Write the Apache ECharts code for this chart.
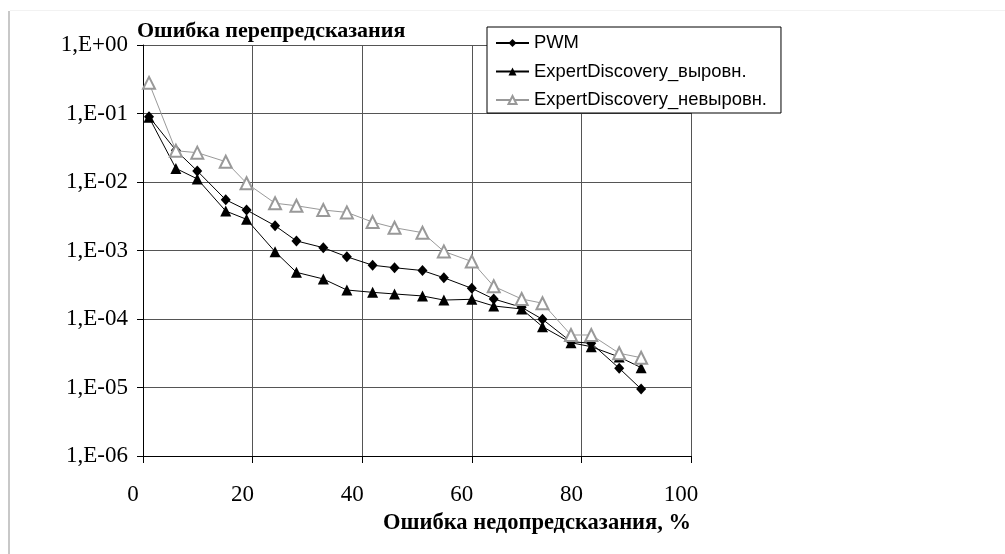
<!DOCTYPE html>
<html>
<head>
<meta charset="utf-8">
<script src="https://cdn.jsdelivr.net/npm/echarts@6/dist/echarts.min.js"></script>
<style>
  html, body { margin: 0; padding: 0; background: #fff; }
  #chart { width: 1005px; height: 554px; }
</style>
</head>
<body>
<div id="chart"></div>
<script>
// ошибка недопредсказания, % (общая ось X для всех серий)
const underErr = [1.1, 6.0, 9.9, 15.1, 18.9, 24.1, 28.0, 32.9, 37.2, 41.9, 45.9, 51.0, 54.9, 60.0, 64.0, 69.1, 72.9, 78.1, 81.8, 86.9, 90.9]

const pwm = [0.09, 0.029, 0.0145, 0.0055, 0.0039, 0.0023, 0.00138, 0.0011, 0.00081, 0.00061, 0.00056, 0.00051, 0.0004, 0.00028, 0.000196, 0.000148, 0.000099, 0.0000467, 0.0000442, 0.0000191, 0.0000095]
const edAligned = [0.088, 0.0158, 0.0111, 0.00377, 0.00285, 0.00096, 0.00048, 0.000384, 0.000265, 0.000245, 0.000232, 0.000217, 0.000189, 0.000194, 0.000155, 0.00014, 0.0000772, 0.0000451, 0.0000394, 0.0000279, 0.0000195]
const edUnaligned = [0.28, 0.0286, 0.0268, 0.0198, 0.0096, 0.0049, 0.0045, 0.0039, 0.0036, 0.0026, 0.00215, 0.00182, 0.00097, 0.00069, 0.0003, 0.000196, 0.00017, 0.0000584, 0.0000584, 0.0000316, 0.0000272]

const seriesNames = ['PWM', 'ExpertDiscovery_выровн.', 'ExpertDiscovery_невыровн.']
const xTicks = [0, 20, 40, 60, 80, 100]

const pairs = ys => underErr.map((x, i) => [x, ys[i]])

const serif = '"Liberation Serif", "Times New Roman", serif'
const sans = '"Liberation Sans", Arial, sans-serif'
const gridColor = '#555'

const chart = echarts.init(document.getElementById('chart'))

const option = {
  backgroundColor: '#fff',
  animation: false,
  title: [
    {
      text: 'Ошибка перепредсказания',
      left: 132,
      top: 15,
      textStyle: { fontFamily: serif, fontSize: 22, fontWeight: 'bold', color: '#000' }
    },
    {
      text: 'Ошибка недопредсказания, %',
      right: 309,
      top: 507,
      textStyle: { fontFamily: serif, fontSize: 22.5, fontWeight: 'bold', color: '#000' }
    }
  ],
  legend: {
    data: seriesNames,
    orient: 'vertical',
    left: 487,
    top: 27,
    padding: [6, 14, 3, 8],
    itemWidth: 33,
    itemHeight: 10,
    itemGap: 8.5,
    backgroundColor: '#fff',
    borderColor: '#000',
    borderWidth: 1,
    borderRadius: 0,
    textStyle: { fontFamily: sans, fontSize: 18.4, color: '#000', lineHeight: 20 }
  },
  grid: {
    left: 143,
    right: 314,
    top: 45,
    bottom: 98,
    containLabel: false
  },
  xAxis: {
    type: 'value',
    min: xTicks[0],
    max: xTicks[xTicks.length - 1],
    interval: 20,
    axisLine: { show: true, onZero: false, lineStyle: { color: '#000', width: 1 } },
    axisTick: { show: true, inside: false, length: 7, lineStyle: { color: '#000' } },
    splitLine: { show: true, lineStyle: { color: gridColor, width: 1 } },
    axisLabel: {
      margin: 27,
      padding: [0, 20, 0, 0],
      fontFamily: serif,
      fontSize: 23,
      color: '#000'
    }
  },
  yAxis: {
    type: 'log',
    logBase: 10,
    min: 1e-6,
    max: 1,
    axisLine: { show: true, lineStyle: { color: '#000', width: 1 } },
    axisTick: { show: true, inside: false, length: 6, lineStyle: { color: '#000' } },
    splitLine: { show: true, lineStyle: { color: gridColor, width: 1 } },
    axisLabel: {
      margin: 15,
      fontFamily: serif,
      fontSize: 23,
      color: '#000',
      formatter(v) {
        const e = Math.round(Math.log10(v))
        return '1,E' + (e < 0 ? '-' : '+') + String(Math.abs(e)).padStart(2, '0')
      }
    }
  },
  series: [
    {
      name: seriesNames[0],
      type: 'line',
      data: pairs(pwm),
      symbol: 'diamond',
      symbolSize: [10, 11],
      lineStyle: { color: '#000', width: 1 },
      itemStyle: { color: '#000' }
    },
    {
      name: seriesNames[1],
      type: 'line',
      data: pairs(edAligned),
      symbol: 'triangle',
      symbolSize: 11,
      lineStyle: { color: '#000', width: 1 },
      itemStyle: { color: '#000' }
    },
    {
      name: seriesNames[2],
      type: 'line',
      data: pairs(edUnaligned),
      symbol: 'emptyTriangle',
      symbolSize: 12,
      lineStyle: { color: '#999', width: 1 },
      itemStyle: { color: '#999', borderWidth: 1 }
    }
  ],
  graphic: [
    // светлая рамка страницы слева и сверху
    { type: 'rect', shape: { x: 8, y: 11, width: 2, height: 543 }, style: { fill: '#c8c8c8' }, silent: true },
    { type: 'rect', shape: { x: 10, y: 10, width: 995, height: 1 }, style: { fill: '#f2f2f2' }, silent: true }
  ]
}

chart.setOption(option)
</script>
</body>
</html>
